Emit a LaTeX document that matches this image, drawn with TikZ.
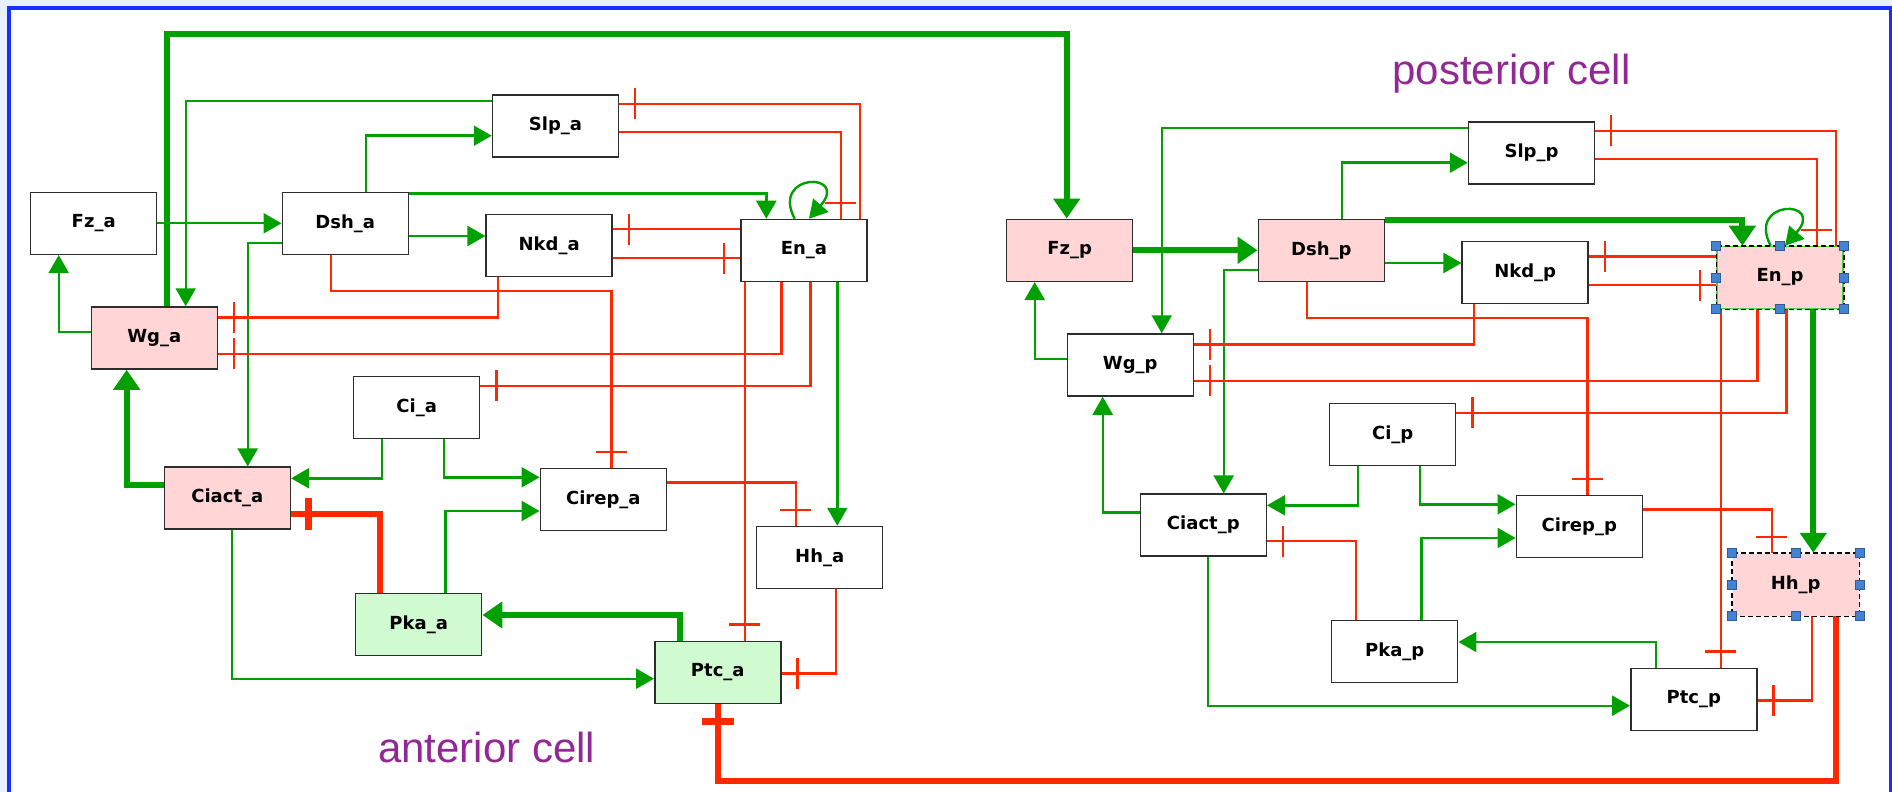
\documentclass[tikz,border=0pt]{standalone}
\usepackage{fontspec}
\setmainfont{Liberation Sans}
\newfontfamily\labfont{DejaVu Sans}
\usetikzlibrary{arrows.meta,decorations.markings}
\definecolor{grn}{RGB}{0,160,0}
\definecolor{rd}{RGB}{255,40,0}
\definecolor{pinkf}{RGB}{255,213,213}
\definecolor{greenf}{RGB}{208,250,208}
\definecolor{boxgray}{RGB}{45,45,45}
\definecolor{frameblue}{RGB}{20,50,255}
\definecolor{bgblue}{RGB}{230,240,255}
\definecolor{purp}{RGB}{145,40,150}
\definecolor{hblue}{RGB}{70,130,210}
\definecolor{lgreen}{RGB}{60,220,60}
\tikzset{
  box/.style={draw=boxgray, fill=white, line width=0.75pt, minimum width=63pt, minimum height=31pt, inner sep=0pt, font=\labfont\bfseries\fontsize{9}{10}\selectfont},
  act/.style={draw=grn, line width=1.2pt, -{Triangle[length=9pt,width=10pt]}},
  actT/.style={draw=grn, line width=3pt, -{Triangle[length=10pt,width=13pt]}},
  inh/.style={draw=rd, line width=1.2pt, postaction={decorate}, decoration={markings, mark=at position -8pt with {\draw[rd, line width=1.2pt] (0pt,-7.75pt) -- (0pt,7.75pt);}}},
  inhT/.style={draw=rd, line width=3pt, postaction={decorate}, decoration={markings, mark=at position -8.5pt with {\draw[rd, line width=3.5pt] (0pt,-8pt) -- (0pt,8pt);}}},
  handle/.style={fill=hblue, draw=hblue!70!black, line width=0.3pt},
  celllabel/.style={anchor=base west, text=purp, inner sep=0pt, font=\fontsize{21}{24}\selectfont}
}
\newcommand\cellnet[1]{%
  \node[box,Fzfill] (Fz#1) at (93.7,223.3) {Fz\_#1};
  \node[box,Dshfill] (Dsh#1) at (345.3,223.3) {Dsh\_#1};
  \node[box] (Slp#1) at (555.5,126) {Slp\_#1};
  \node[box] (Nkd#1) at (549.2,245.7) {Nkd\_#1};
  \node[box,Enfill] (En#1) at (804,250.5) {En\_#1};
  \node[box,Wgfill] (Wg#1) at (154.3,338) {Wg\_#1};
  \node[box] (Ci#1) at (416.7,407.7) {Ci\_#1};
  \node[box,Ciactfill] (Ciact#1) at (227.3,498.2) {Ciact\_#1};
  \node[box] (Cirep#1) at (603.3,499.7) {Cirep\_#1};
  \node[box,Hhfill] (Hh#1) at (819.7,557.5) {Hh\_#1};
  \node[box,Pkafill] (Pka#1) at (418.7,624.3) {Pka\_#1};
  \node[box,Ptcfill] (Ptc#1) at (717.8,672.3) {Ptc\_#1};
  % activations
  \draw[eFzDsh] (Fz#1.east) -- (Dsh#1.west);
  \draw[act] (Wg#1.west |- 0,331.7) -| (Fz#1.south -| 58.7,0);
  \draw[act] (Slp#1.west |- 0,101) -| (Wg#1.north -| 185.7,0);
  \draw[act] (Dsh#1.north -| 365.7,0) |- (Slp#1.west |- 0,135.7);
  \draw[eDshEn] (Dsh#1.east |- 0,193.5) -| (En#1.north -| 766.3,0);
  \draw[act] (Dsh#1.east |- 0,236) -- (Nkd#1.west |- 0,236);
  \draw[act] (Dsh#1.west |- 0,243) -| (Ciact#1.north -| 247.7,0);
  \draw[act] (En#1.north -| 794.7,0) .. controls (770,172) and (850,172) .. (En#1.north -| 809,0);
  \draw[eEnHh] (En#1.south -| 837.3,0) -- (Hh#1.north -| 837.3,0);
  \draw[act] (Ci#1.south -| 382,0) |- (Ciact#1.east |- 0,478.3);
  \draw[act] (Ci#1.south -| 443.7,0) |- (Cirep#1.west |- 0,477.3);
  \draw[act] (Pka#1.north -| 445.3,0) |- (Cirep#1.west |- 0,511);
  \draw[eCiactWg] (Ciact#1.west |- 0,485.3) -| (Wg#1.south -| 126.7,0);
  \draw[act] (Ciact#1.south -| 232,0) |- (Ptc#1.west |- 0,678.7);
  \draw[ePtcPka] (Ptc#1.north -| 679.7,0) |- (Pka#1.east |- 0,615);
  % inhibitions
  \draw[inh] (Dsh#1.south -| 331,0) |- (611.3,290.7) -- (Cirep#1.north -| 611.3,0);
  \draw[inh] (Nkd#1.south -| 498,0) |- (Wg#1.east |- 0,317.3);
  \draw[inh] (En#1.south -| 781.3,0) |- (Wg#1.east |- 0,353.7);
  \draw[inh] (En#1.west |- 0,229.3) -- (Nkd#1.east |- 0,229.3);
  \draw[inh] (Nkd#1.east |- 0,258) -- (En#1.west |- 0,258);
  \draw[inh] (Slp#1.east |- 0,132.3) -| (En#1.north -| 840.7,0);
  \draw[inh] (En#1.north -| 859.7,0) |- (Slp#1.east |- 0,104);
  \draw[inh] (En#1.south -| 810.3,0) |- (Ci#1.east |- 0,385.7);
  \draw[inh] (En#1.south -| 744.7,0) -- (Ptc#1.north -| 744.7,0);
  \draw[ePkaCiact] (Pka#1.north -| 380,0) |- (Ciact#1.east |- 0,514);
  \draw[inh] (Cirep#1.east |- 0,482.3) -| (Hh#1.north -| 795.7,0);
  \draw[inh] (Hh#1.south -| 836,0) |- (Ptc#1.east |- 0,673.3);
}
\begin{document}
\begin{tikzpicture}[x=0.5pt,y=-0.5pt]
  \useasboundingbox (0,0) rectangle (1892,792);
  \clip (0,0) rectangle (1892,792);
  \fill[bgblue] (0,0) rectangle (1892,792);
  \fill[white] (9.3,8) rectangle (1891,820);
  \draw[frameblue, line width=2pt] (9.3,8) rectangle (1891,820);
  \begin{scope}[Fzfill/.style={}, Dshfill/.style={}, Enfill/.style={}, Hhfill/.style={},
      Wgfill/.style={fill=pinkf}, Ciactfill/.style={fill=pinkf},
      Pkafill/.style={fill=greenf}, Ptcfill/.style={fill=greenf},
      eFzDsh/.style={act}, eDshEn/.style={act}, eEnHh/.style={act},
      eCiactWg/.style={actT}, ePkaCiact/.style={inhT}, ePtcPka/.style={actT}]
    \cellnet{a}
  \end{scope}
  \begin{scope}[shift={(976,27)},
      Fzfill/.style={fill=pinkf}, Dshfill/.style={fill=pinkf},
      Enfill/.style={fill=pinkf, draw=lgreen}, Hhfill/.style={fill=pinkf, draw=none},
      Wgfill/.style={}, Ciactfill/.style={}, Pkafill/.style={}, Ptcfill/.style={},
      eFzDsh/.style={actT}, eDshEn/.style={actT}, eEnHh/.style={actT},
      eCiactWg/.style={act}, ePkaCiact/.style={inh}, ePtcPka/.style={act}]
    \cellnet{p}
  \end{scope}
  % between cells
  \draw[actT] (Wga.north -| 166.7,0) -- (166.7,34.3) -| (Fzp.north -| 1066.7,0);
  \draw[inhT] (Hhp.south -| 1835.7,0) -- (1835.7,781) -| (Ptca.south -| 718,0);
  % selection marks
  \draw[black, line width=0.75pt, dash pattern=on 2.5pt off 1.5pt] (Enp.north west) rectangle (Enp.south east);
  \draw[black, line width=0.75pt, dash pattern=on 2.5pt off 1.5pt] (Hhp.north west) rectangle (Hhp.south east);
  \foreach \n in {Enp,Hhp}{
    \foreach \an in {north west,north,north east,west,east,south west,south,south east}{
      \draw[handle] (\n.\an) ++(-4.5,-4.5) rectangle ++(9,9);
    }
  }
  % labels
  \node[celllabel] (lant) at (377.7,762.7) {anterior cell};
  \node[celllabel] (lpost) at (1392,85) {posterior cell};
\end{tikzpicture}
\end{document}
